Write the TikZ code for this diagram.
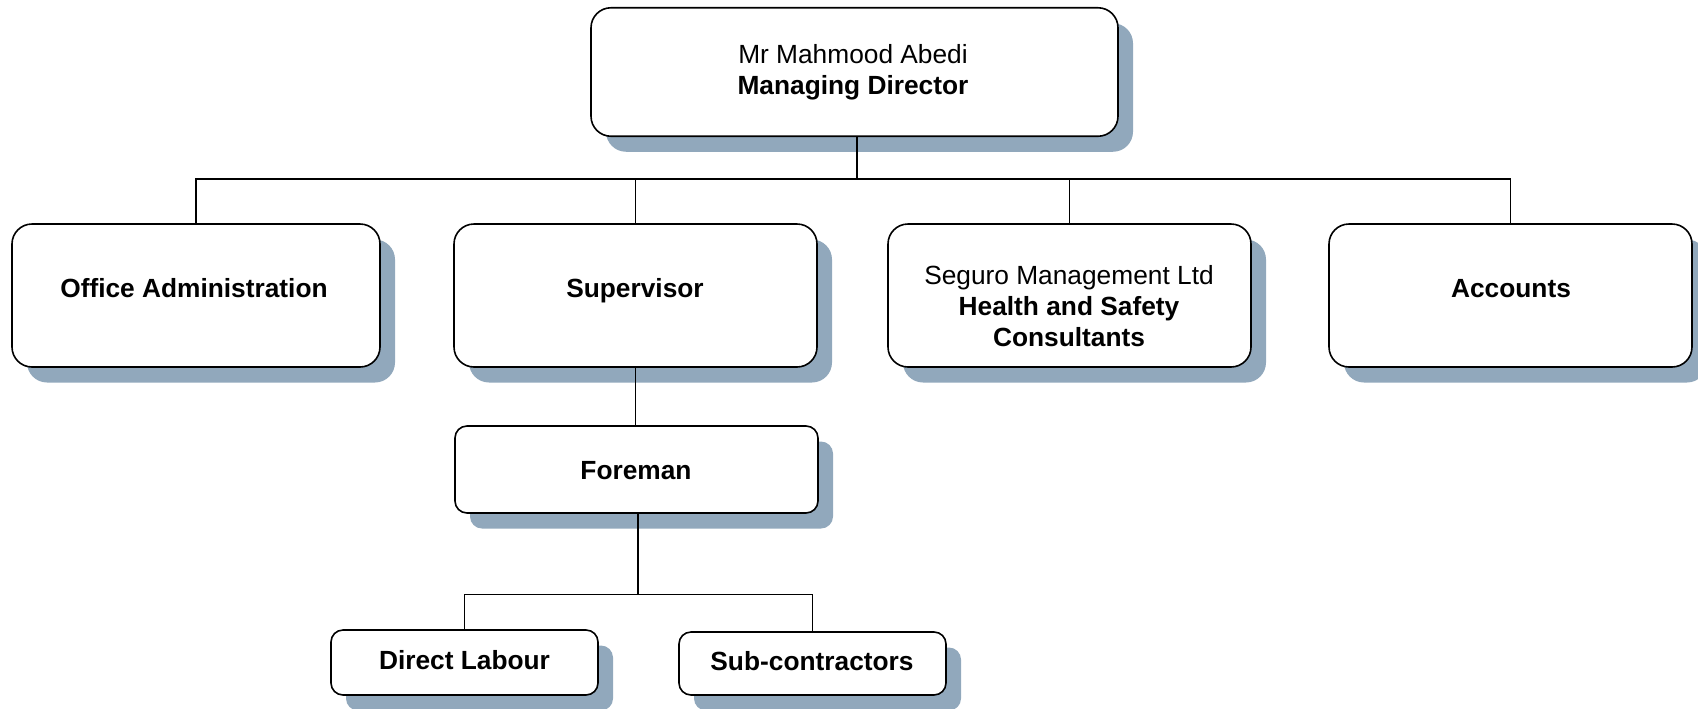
\documentclass[tikz,border=0pt]{standalone}
\usepackage{fontspec}
\setmainfont{Liberation Sans}
\usetikzlibrary{shadows}
\definecolor{shadowc}{RGB}{145,168,188}
\tikzset{
  orgbox/.style={draw=black, line width=0.8pt, fill=white, rounded corners=#1, inner sep=0pt,
    drop shadow={shadow xshift=7.5pt, shadow yshift=-7.75pt, fill=shadowc, opacity=1}},
  orgbox/.default=10pt,
  lbl/.style={anchor=base, inner sep=0pt, align=center, font=\fontsize{13.15}{15.5}\selectfont},
  conn/.style={draw=black, line width=0.8pt}
}
\begin{document}
\begin{tikzpicture}[x=0.5pt,y=-0.5pt]
\useasboundingbox (0,0) rectangle (1698,708);
% boxes
\node[orgbox, minimum width=263.5pt, minimum height=64.25pt] (md) at (854.5,72) {};
\node[orgbox, minimum width=184pt, minimum height=71.5pt] (oa) at (196,295.5) {};
\node[orgbox, minimum width=181.5pt, minimum height=71.5pt] (sup) at (635.5,295.5) {};
\node[orgbox, minimum width=181.5pt, minimum height=71.5pt] (hs) at (1069.5,295.5) {};
\node[orgbox, minimum width=181.5pt, minimum height=71.5pt] (acc) at (1510.5,295.5) {};
\node[orgbox=6pt, minimum width=181.5pt, minimum height=43.5pt] (fm) at (636.5,469.5) {};
\node[orgbox=6pt, minimum width=133.5pt, minimum height=32.5pt] (dl) at (464.5,662.5) {};
\node[orgbox=6pt, minimum width=133.5pt, minimum height=31.5pt] (sc) at (812.5,663.5) {};
% texts (base anchor = baseline of last line)
\node[lbl] (tmd) at (853,94) {Mr Mahmood Abedi\\\textbf{Managing Director}};
\node[lbl] (toa) at (194,297.5) {\textbf{Office Administration}};
\node[lbl] (tsup) at (635,297.5) {\textbf{Supervisor}};
\node[lbl] (ths) at (1069,346.5) {Seguro Management Ltd\\\textbf{Health and Safety}\\\textbf{Consultants}};
\node[lbl] (tacc) at (1511,297) {\textbf{Accounts}};
\node[lbl] (tfm) at (636,479.5) {\textbf{Foreman}};
\node[lbl] (tdl) at (464.5,669) {\textbf{Direct Labour}};
\node[lbl] (tsc) at (812,670) {\textbf{Sub-contractors}};
% connectors
\coordinate (b1) at (857,179);
\coordinate (b2) at (638,594.5);
\draw[conn] (md.south -| b1) -- (b1);
\draw[conn] (oa.north) |- (b1);
\draw[conn] (acc.north) |- (b1);
\draw[conn] (sup.north) -- (sup.north |- b1);
\draw[conn] (hs.north) -- (hs.north |- b1);
\draw[conn] (sup.south) -- (sup.south |- fm.north);
\draw[conn] (fm.south -| b2) -- (b2);
\draw[conn] (dl.north) |- (b2);
\draw[conn] (sc.north) |- (b2);
\end{tikzpicture}
\end{document}
